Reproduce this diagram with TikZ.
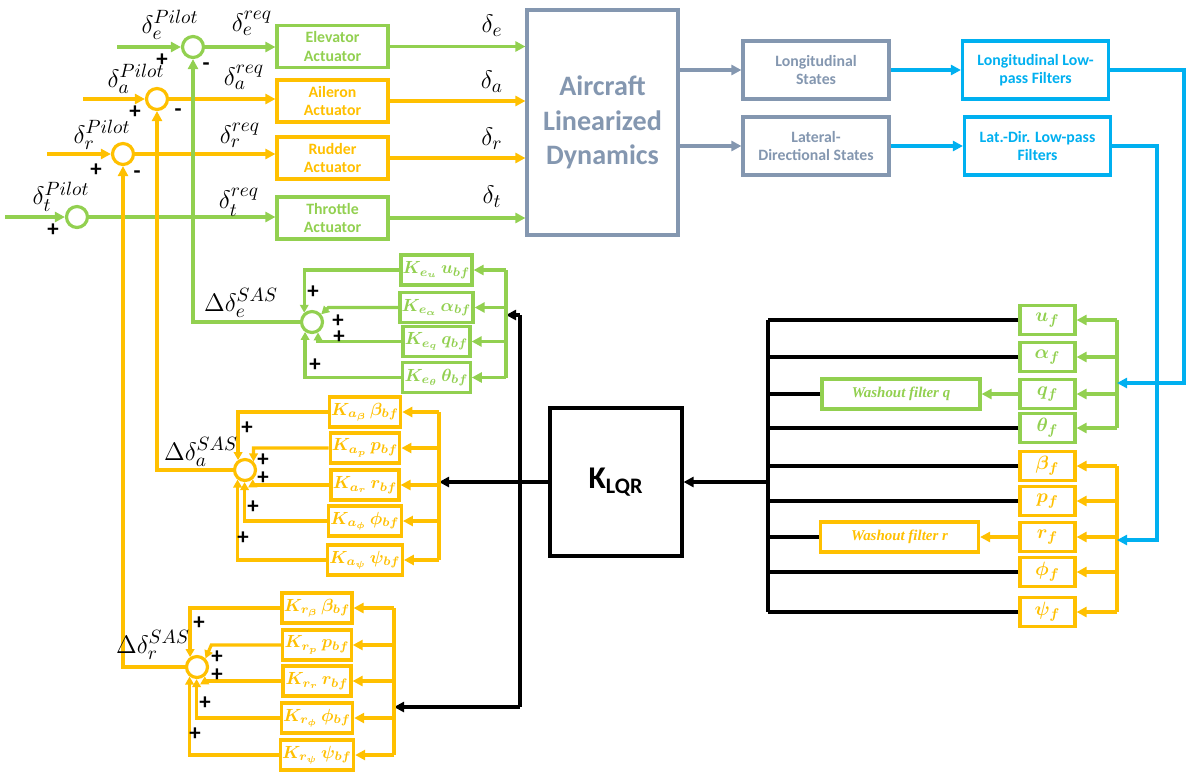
\documentclass[tikz,border=0pt]{standalone}
\usepackage{amsmath,amssymb}
\usepackage{fontspec}
\setmainfont{Carlito}
\newfontfamily\cambfont{Liberation Serif}
\usepackage{tikz}
\usetikzlibrary{arrows.meta,positioning}
\definecolor{lgreen}{HTML}{92D050}
\definecolor{lorange}{HTML}{FFC000}
\definecolor{lslate}{HTML}{8497B0}
\definecolor{lcyan}{HTML}{00B0F0}

\begin{document}
\begin{tikzpicture}[x=0.02cm, y=-0.02cm,
    box/.style={draw, line width=1.8pt, fill=white, align=center, inner sep=1pt,
      font=\bfseries\fontsize{9}{10.5}\selectfont},
    actbox/.style={box, minimum width=2.22cm, minimum height=0.84cm},
    stbox/.style={box, minimum width=2.92cm, minimum height=1.16cm},
    gainbox/.style={box, minimum height=0.6cm, font=\fontsize{10}{11}\selectfont},
    fltbox/.style={box, minimum width=1.1cm, minimum height=0.58cm, font=\fontsize{11}{12}\selectfont},
    washbox/.style={box, minimum width=3.16cm, minimum height=0.6cm,
      font=\cambfont\bfseries\itshape\fontsize{8.5}{10}\selectfont},
    sum/.style={circle, draw, fill=white, line width=1.8pt, minimum size=0.42cm, inner sep=0pt},
    lbl/.style={font=\fontsize{15}{17}\selectfont, inner sep=0pt},
    sgn/.style={font=\bfseries\fontsize{13}{13}\selectfont, inner sep=0pt},
    arr/.style={-{Triangle[length=2mm,width=2mm]}, line width=1.8pt},
    sarr/.style={-{Triangle[length=1.6mm,width=1.7mm]}, line width=1.8pt},
    ln/.style={line width=1.8pt}
  ]
  \useasboundingbox (0,0) rectangle (1186,772);

  % pilot inputs and summing points
  \node[sum, draw=lgreen] (se) at (193,47) {};
  \node[sum, draw=lorange] (sa) at (157,99) {};
  \node[sum, draw=lorange] (sr) at (123,154) {};
  \node[sum, draw=lgreen] (st) at (77,217) {};
  \coordinate (ie) at (117,47);
  \coordinate (ia) at (83,99);
  \coordinate (ir) at (47,154);
  \coordinate (it) at (5,217);

  % actuators
  \node[actbox, draw=lgreen, text=lgreen] (ea) at (332.5,46.5) {Elevator\\Actuator};
  \node[actbox, draw=lorange, text=lorange] (aa) at (332.5,101) {Aileron\\Actuator};
  \node[actbox, draw=lorange, text=lorange] (ra) at (332.5,158) {Rudder\\Actuator};
  \node[actbox, draw=lgreen, text=lgreen] (ta) at (332.5,218) {Throttle\\Actuator};

  \draw[arr, lgreen] (ie) -- (se);
  \draw[arr, lorange] (ia) -- (sa);
  \draw[arr, lorange] (ir) -- (sr);
  \draw[arr, lgreen] (it) -- (st);
  \draw[arr, lgreen] (se) -- (ea.west |- se);
  \draw[arr, lorange] (sa) -- (aa.west |- sa);
  \draw[arr, lorange] (sr) -- (ra.west |- sr);
  \draw[arr, lgreen] (st) -- (ta.west |- st);

  \node[lbl] (lpe) at (170,25) {$\delta_e^{Pilot}$};
  \node[lbl] (lpa) at (136,79) {$\delta_a^{Pilot}$};
  \node[lbl] (lpr) at (102,135) {$\delta_r^{Pilot}$};
  \node[lbl] (lpt) at (61,197) {$\delta_t^{Pilot}$};
  \node[lbl] (lre) at (252,23) {$\delta_e^{req}$};
  \node[lbl] (lra) at (244,77) {$\delta_a^{req}$};
  \node[lbl] (lrr) at (240,135) {$\delta_r^{req}$};
  \node[lbl] (lrt) at (239,202) {$\delta_t^{req}$};

  % plant
  \node[box, draw=lslate, text=lslate, minimum width=3.02cm, minimum height=4.5cm,
    font=\bfseries\fontsize{16}{19.5}\selectfont] (acd) at (602.5,122.5) {Aircraft\\Linearized\\Dynamics};
  \draw[arr, lgreen] (ea) -- (ea -| acd.west);
  \draw[arr, lorange] (aa) -- (aa -| acd.west);
  \draw[arr, lorange] (ra) -- (ra -| acd.west);
  \draw[arr, lgreen] (ta) -- (ta -| acd.west);
  \node[lbl] (de) at (492,26) {$\delta_e$};
  \node[lbl] (da) at (492,82) {$\delta_a$};
  \node[lbl] (dr) at (492,139) {$\delta_r$};
  \node[lbl] (dt) at (492,197) {$\delta_t$};

  \node[stbox, draw=lslate, text=lslate] (lon) at (816,70) {Longitudinal\\States};
  \node[stbox, draw=lslate, text=lslate] (lat) at (816,146) {Lateral-\\Directional States};
  \draw[arr, lslate] (acd.east |- lon) -- (lon);
  \draw[arr, lslate] (acd.east |- lat) -- (lat);

  \node[stbox, draw=lcyan, text=lcyan] (lpf1) at (1035.5,70) {Longitudinal Low-\\pass Filters};
  \node[stbox, draw=lcyan, text=lcyan] (lpf2) at (1037.5,146) {Lat.-Dir. Low-pass\\Filters};
  \draw[arr, lcyan] (lon) -- (lpf1);
  \draw[arr, lcyan] (lat) -- (lpf2);

  % filtered states
  \foreach \nm/\yy/\tx in {uf/320/u_f, af/357/\alpha_f, qf/394/q_f, thf/428/\theta_f}
    \node[fltbox, draw=lgreen, text=lgreen] (\nm) at (1047.5,\yy) {$\boldsymbol{\tx}$};
  \foreach \nm/\yy/\tx in {bf/466/\beta_f, pf/501/p_f, rf/537/r_f, phf/572/\phi_f, psf/612/\psi_f}
    \node[fltbox, draw=lorange, text=lorange] (\nm) at (1047.5,\yy) {$\boldsymbol{\tx}$};

  \coordinate (gbus) at (1117,0);
  \coordinate (gin) at (1117,383);
  \coordinate (yin) at (1117,540);
  \draw[ln, lgreen] (uf -| gbus) -- (thf -| gbus);
  \draw[ln, lorange] (bf -| gbus) -- (psf -| gbus);
  \foreach \nm in {uf,af,qf,thf}
    \draw[arr, lgreen] (\nm -| gbus) -- (\nm);
  \foreach \nm in {bf,pf,rf,phf,psf}
    \draw[arr, lorange] (\nm -| gbus) -- (\nm);
  \draw[arr, lcyan] (lpf1) -| (1184,383) -- (gin);
  \draw[arr, lcyan] (lpf2) -| (1157,540) -- (yin);

  \node[washbox, draw=lgreen, text=lgreen] (wq) at (901,394) {Washout filter q};
  \node[washbox, draw=lorange, text=lorange] (wr) at (899.5,537) {Washout filter r};
  \draw[arr, lgreen] (qf) -- (wq);
  \draw[arr, lorange] (rf) -- (wr);

  % LQR gain
  \coordinate (kbus) at (768,0);
  \foreach \nm in {uf,af,wq,thf,bf,pf,wr,phf,psf}
    \draw[ln] (\nm.west) -- (\nm.west -| kbus);
  \draw[ln] (uf.west -| kbus) -- (psf.west -| kbus);
  \node[box, minimum width=2.64cm, minimum height=2.96cm,
    font=\bfseries\fontsize{18}{20}\selectfont] (klqr) at (616,482) {K\textsubscript{LQR}};
  \draw[arr] (kbus |- klqr) -- (klqr);

  \coordinate (ebus) at (506,0);
  \coordinate (abus) at (439,0);
  \coordinate (rbus) at (394,0);
  \coordinate (kt) at (520,315);
  \coordinate (kb) at (520,707);
  \draw[arr] (klqr) -- (abus |- klqr);
  \draw[ln] (kt) -- (kb);
  \draw[arr] (kt) -- (ebus |- kt);
  \draw[arr] (kb) -- (rbus |- kb);

  % elevator SAS
  \foreach \nm/\yy/\tx in {keu/270/{K_{e_u}\,u_{bf}}, kea/307.5/{K_{e_\alpha}\,\alpha_{bf}},
      keq/341.5/{K_{e_q}\,q_{bf}}, ket/377.5/{K_{e_\theta}\,\theta_{bf}}}
    \node[gainbox, draw=lgreen, text=lgreen, minimum width=1.34cm] (\nm) at (436.5,\yy) {$\boldsymbol{\tx}$};
  \draw[ln, lgreen] (keu -| ebus) -- (ket -| ebus);
  \foreach \nm in {keu,kea,keq,ket}
    \draw[arr, lgreen] (\nm -| ebus) -- (\nm);
  \node[sum, draw=lgreen] (ses) at (312,322) {};
  \draw[sarr, lgreen] (keu) -| (ses.130);
  \draw[sarr, lgreen] (kea.west) -- ++(-70,0) -- (ses.40);
  \draw[sarr, lgreen] (keq) -| (ses.-60);
  \draw[sarr, lgreen] (ket) -| (ses.-125);
  \draw[arr, lgreen] (ses) -| (se);
  \node[lbl] (lse) at (241,303) {$\Delta\delta_e^{SAS}$};

  % aileron SAS
  \foreach \nm/\yy/\tx in {kab/412/{K_{a_\beta}\,\beta_{bf}}, kap/448/{K_{a_p}\,p_{bf}},
      kar/485/{K_{a_r}\,r_{bf}}, kaf/521/{K_{a_\phi}\,\phi_{bf}}, kas/560/{K_{a_\psi}\,\psi_{bf}}}
    \node[gainbox, draw=lorange, text=lorange, minimum width=1.32cm] (\nm) at (365,\yy) {$\boldsymbol{\tx}$};
  \draw[ln, lorange] (kab -| abus) -- (kas -| abus);
  \foreach \nm in {kab,kap,kar,kaf,kas}
    \draw[arr, lorange] (\nm -| abus) -- (\nm);
  \node[sum, draw=lorange] (sas) at (245,470) {};
  \draw[sarr, lorange] (kab) -| (sas.125);
  \draw[sarr, lorange] (kap.west) -- ++(-75,0) -- (sas.45);
  \draw[sarr, lorange] (kar) -| (sas.-50);
  \draw[sarr, lorange] (kaf) -| (sas.-92);
  \draw[sarr, lorange] (kas) -| (sas.-128);
  \draw[arr, lorange] (sas) -| (sa);
  \node[lbl] (lsa) at (201,452) {$\Delta\delta_a^{SAS}$};

  % rudder SAS
  \foreach \nm/\yy/\tx in {krb/608/{K_{r_\beta}\,\beta_{bf}}, krp/645/{K_{r_p}\,p_{bf}},
      krr/681/{K_{r_r}\,r_{bf}}, krf/718/{K_{r_\phi}\,\phi_{bf}}, krs/755/{K_{r_\psi}\,\psi_{bf}}}
    \node[gainbox, draw=lorange, text=lorange, minimum width=1.36cm] (\nm) at (317,\yy) {$\boldsymbol{\tx}$};
  \draw[ln, lorange] (krb -| rbus) -- (krs -| rbus);
  \foreach \nm in {krb,krp,krr,krf,krs}
    \draw[arr, lorange] (\nm -| rbus) -- (\nm);
  \node[sum, draw=lorange] (srs) at (197,667) {};
  \draw[sarr, lorange] (krb) -| (srs.125);
  \draw[sarr, lorange] (krp.west) -- ++(-70,0) -- (srs.45);
  \draw[sarr, lorange] (krr) -| (srs.-50);
  \draw[sarr, lorange] (krf) -| (srs.-92);
  \draw[sarr, lorange] (krs) -| (srs.-128);
  \draw[arr, lorange] (srs) -| (sr);
  \node[lbl] (lsr) at (153,645) {$\Delta\delta_r^{SAS}$};

  % signs
  \foreach \x/\y/\s [count=\i] in {162/60/+, 206/67/-, 135/112/+, 178/113/-, 96/170/+, 137/175/-,
      53/230/+, 313/292/+, 338/321/+, 339/337/+, 315/365/+, 247/428/+, 263/460/+, 263/478/+,
      253/507/+, 243/538/+, 199/623/+, 217/657/+, 217/675/+, 205/703/+, 195/734/+}
    \node[sgn] (sg\i) at (\x,\y) {\s};
\end{tikzpicture}
\end{document}
